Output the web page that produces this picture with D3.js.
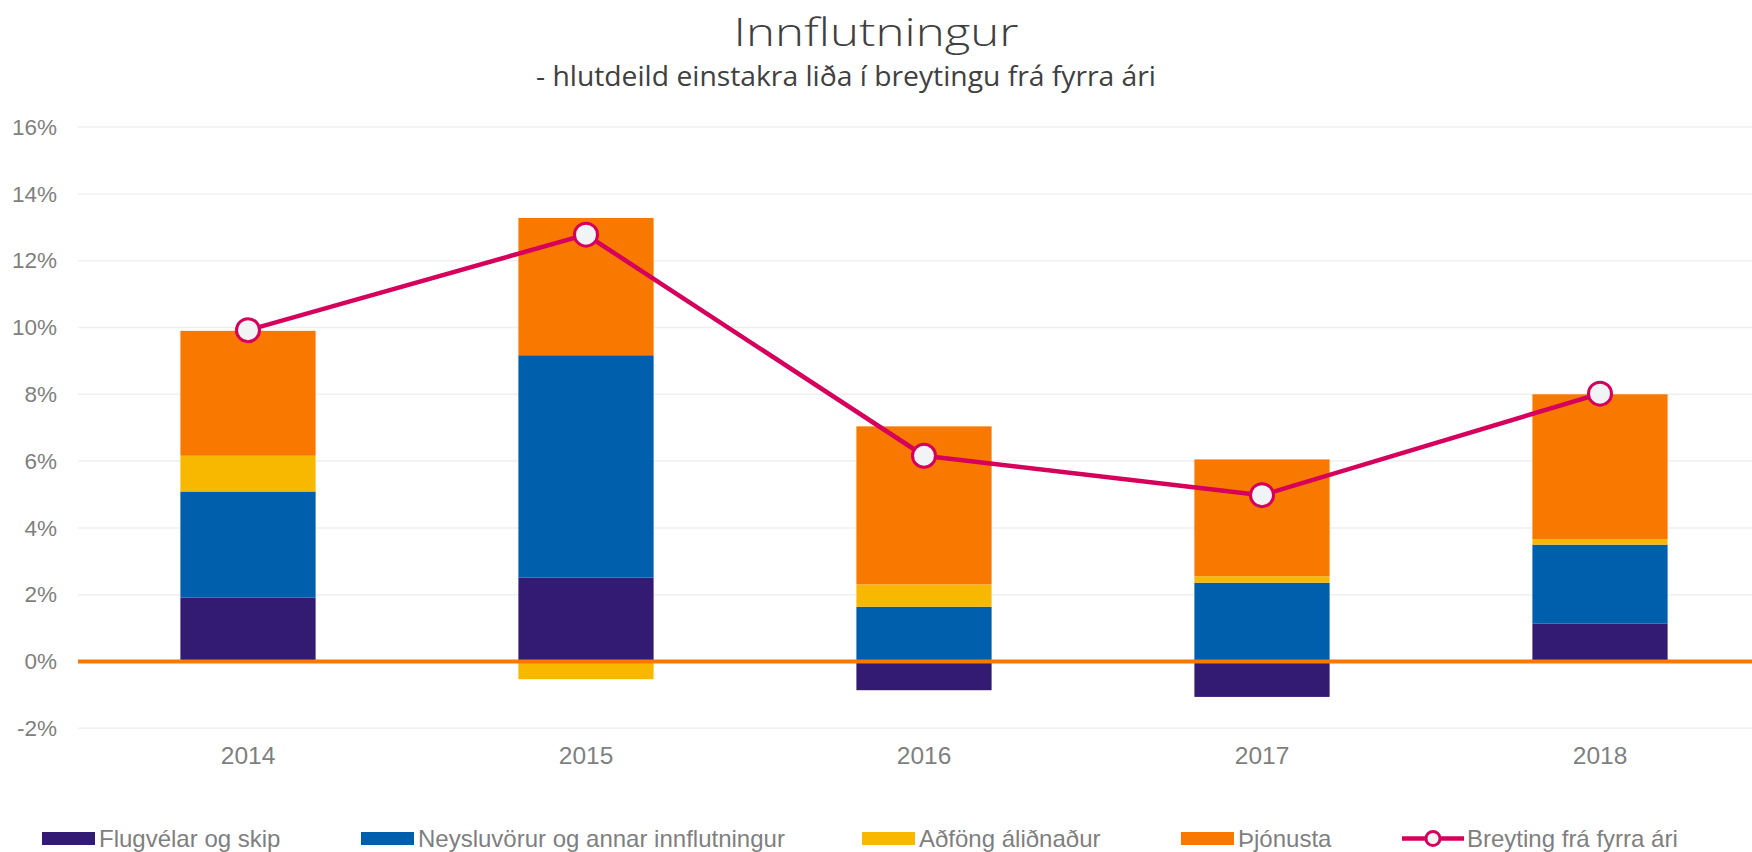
<!DOCTYPE html>
<html>
<head>
<meta charset="utf-8">
<script src="https://cdn.jsdelivr.net/npm/d3@7"></script>
<style>
  body { margin: 0; background: #fff; }
  svg { display: block; }
  .tick text { fill: #7f7f7f; font-family: "Liberation Sans", Arial, sans-serif; }
  .yax .tick text { font-size: 22.5px; }
  .xax .tick text { font-size: 24.5px; }
  .legend text { fill: #7f7f7f; font-family: "Liberation Sans", Arial, sans-serif; font-size: 24px; }
</style>
</head>
<body>
<svg width="1752" height="852"></svg>
<script>
// data (percent)
const years = ["2014", "2015", "2016", "2017", "2018"];
const flugvelar = [1.91, 2.51, -0.86, -1.06, 1.14];
const neysluvorur = [3.18, 6.66, 1.64, 2.36, 2.36];
const adfong = [1.07, -0.53, 0.67, 0.19, 0.16];
const thjonusta = [3.74, 4.11, 4.73, 3.50, 4.34];
const breyting = [9.92, 12.78, 6.16, 4.98, 8.02];
const yTicks = [-2, 0, 2, 4, 6, 8, 10, 12, 14, 16];

const seriesNames = ["Flugvélar og skip", "Neysluvörur og annar innflutningur", "Aðföng áliðnaður", "Þjónusta"];
const lineName = "Breyting frá fyrra ári";
const colors = ["#331a73", "#005fad", "#f9b800", "#f87800"];
const lineColor = "#d6005c";

var svg = d3.select("svg");
const W = 1752;

// build rows for the stack
const rows = years.map((y, i) => ({
  year: y,
  s0: flugvelar[i], s1: neysluvorur[i], s2: adfong[i], s3: thjonusta[i]
}));

var x = d3.scaleBand().domain(years).range([79, 1769]).paddingInner(0.6).paddingOuter(0.3);
var y = d3.scaleLinear().domain([-2, 16]).range([728.3, 127.1]);

// gridlines
svg.append("g")
  .selectAll("line")
  .data(yTicks.filter(d => d !== 0))
  .enter().append("line")
    .attr("x1", 78).attr("x2", W)
    .attr("y1", d => y(d)).attr("y2", d => y(d))
    .attr("stroke", "#efefef").attr("stroke-width", 1.5);

// y axis labels
const yAxis = svg.append("g")
  .attr("class", "yax")
  .attr("transform", "translate(78,0)")
  .call(d3.axisLeft(y).tickValues(yTicks).tickSize(0).tickPadding(21).tickFormat(d => d + "%"));
yAxis.select(".domain").remove();

// stacked bars
const stack = d3.stack().keys(["s0", "s1", "s2", "s3"]).offset(d3.stackOffsetDiverging);
const layers = stack(rows);

svg.append("g")
  .selectAll("g")
  .data(layers)
  .enter().append("g")
    .attr("fill", (d, i) => colors[i])
  .selectAll("rect")
  .data(d => d)
  .enter().append("rect")
    .attr("x", d => x(d.data.year))
    .attr("width", x.bandwidth())
    .attr("y", d => y(Math.max(d[0], d[1])))
    .attr("height", d => Math.abs(y(d[0]) - y(d[1])));

// zero line
svg.append("line")
  .attr("x1", 78).attr("x2", W)
  .attr("y1", y(0)).attr("y2", y(0))
  .attr("stroke", "#f87800").attr("stroke-width", 4);

// x axis labels
const xAxis = svg.append("g")
  .attr("class", "xax")
  .attr("transform", "translate(0," + y(-2) + ")")
  .call(d3.axisBottom(x).tickSize(0).tickPadding(18));
xAxis.select(".domain").remove();

// change line with markers
const linePts = years.map((yr, i) => [x(yr) + x.bandwidth() / 2, y(breyting[i])]);
svg.append("path")
  .attr("d", d3.line()(linePts))
  .attr("fill", "none")
  .attr("stroke", lineColor)
  .attr("stroke-width", 4.5)
  .attr("stroke-linejoin", "round");

svg.append("g")
  .selectAll("circle")
  .data(linePts)
  .enter().append("circle")
    .attr("cx", d => d[0]).attr("cy", d => d[1])
    .attr("r", 11.5)
    .attr("fill", "#f2f3f5")
    .attr("stroke", lineColor)
    .attr("stroke-width", 3);

// title
svg.append("text")
  .attr("x", 876).attr("y", 46)
  .attr("text-anchor", "middle")
  .attr("font-family", "'Open Sans', sans-serif")
  .attr("font-weight", 300)
  .attr("font-size", 39)
  .attr("fill", "#404040")
  .attr("textLength", 285).attr("lengthAdjust", "spacingAndGlyphs")
  .text("Innflutningur");

svg.append("text")
  .attr("x", 846).attr("y", 86)
  .attr("text-anchor", "middle")
  .attr("font-family", "'Open Sans', sans-serif")
  .attr("font-size", 28)
  .attr("fill", "#404040")
  .attr("textLength", 620).attr("lengthAdjust", "spacingAndGlyphs")
  .text("-  hlutdeild einstakra liða í breytingu frá fyrra ári");

// legend
const legendX = [42, 361, 862, 1181];
const leg = svg.append("g").attr("class", "legend");
seriesNames.forEach((name, i) => {
  leg.append("rect")
    .attr("x", legendX[i]).attr("y", 832)
    .attr("width", 53).attr("height", 13)
    .attr("fill", colors[i]);
  leg.append("text")
    .attr("x", legendX[i] + 57).attr("y", 847)
    .text(name);
});
leg.append("line")
  .attr("x1", 1402).attr("x2", 1464)
  .attr("y1", 838.5).attr("y2", 838.5)
  .attr("stroke", lineColor).attr("stroke-width", 4.5);
leg.append("circle")
  .attr("cx", 1433).attr("cy", 838.5).attr("r", 7)
  .attr("fill", "#f2f3f5").attr("stroke", lineColor).attr("stroke-width", 3);
leg.append("text")
  .attr("x", 1467).attr("y", 847)
  .text(lineName);
</script>
</body>
</html>
